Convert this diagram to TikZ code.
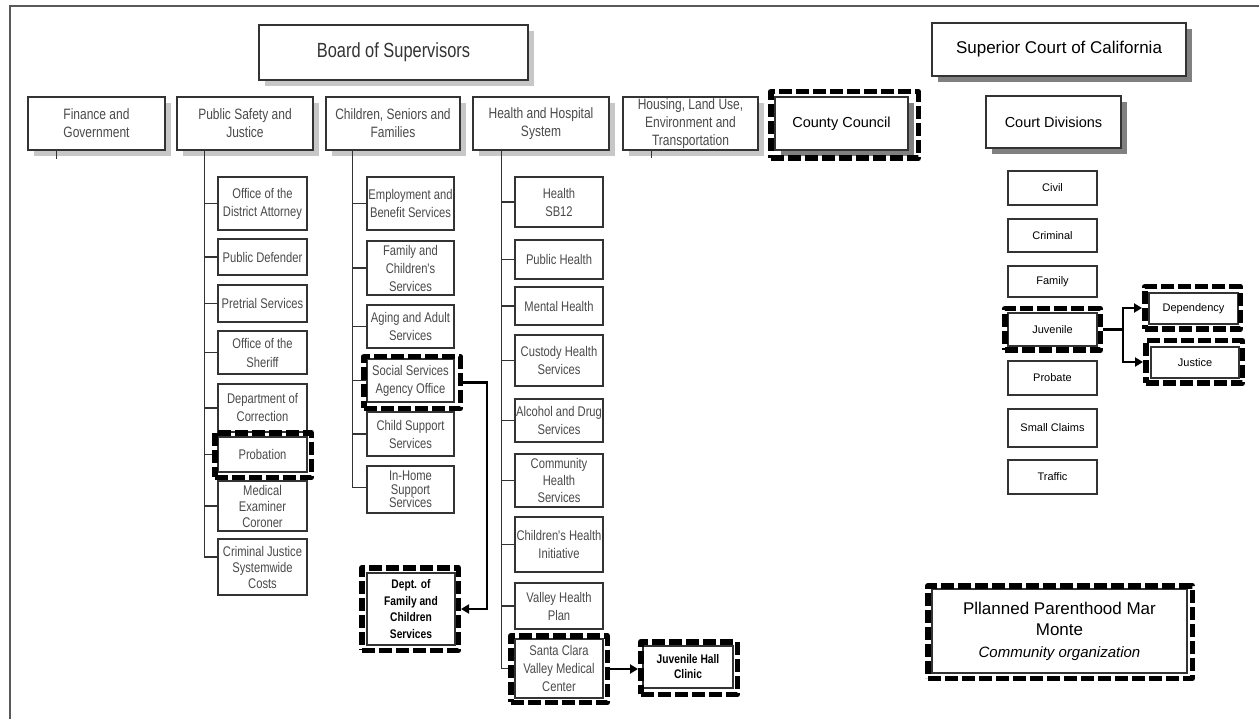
\documentclass[tikz,border=0pt]{standalone}
\usepackage{fontspec}
\setmainfont{Liberation Sans}
\newfontfamily\cond[FakeStretch=0.8]{Liberation Sans}
\newfontfamily\condb[FakeStretch=0.82]{Liberation Sans Bold}
\usetikzlibrary{shadows,arrows.meta,calc}
\definecolor{txtgray}{HTML}{4A4A4A}
\definecolor{linegray}{HTML}{333333}
\newcommand\bx[7][]{\node[box,#1,minimum width={(#5-#3)*1pt},minimum height={(#6-#4)*1pt}] (#2) at ({(#3+#5)/2},{(#4+#6)/2}) {#7};}
\newcommand\dfr[5]{\node[dashbox,minimum width={(#4-#2-5.5)*1pt},minimum height={(#5-#3-5.5)*1pt}] (#1) at ({(#2+#4)/2},{(#3+#5)/2}) {};}
\begin{document}
\begin{tikzpicture}[x=1pt,y=-1pt,
  box/.style={draw=linegray,line width=1.4pt,fill=white,rectangle,inner sep=0pt,align=center},
  shadowed/.style={drop shadow={shadow xshift=6pt,shadow yshift=-6pt,fill=black!22,opacity=1}},
  dshadow/.style={drop shadow={shadow xshift=6pt,shadow yshift=-6pt,fill=black!50,opacity=1}},
  top/.style={box,shadowed,text=txtgray,font=\cond\fontsize{15}{18}\selectfont},
  kid/.style={box,text=txtgray,font=\cond\fontsize{14}{18}\selectfont},
  crt/.style={box,text=black,font=\fontsize{11}{12}\selectfont},
  bld/.style={box,text=black,font=\condb\fontsize{12.5}{16.5}\selectfont},
  dashbox/.style={draw=black,line width=5.5pt,dash pattern=on 13pt off 4pt,rectangle,inner sep=0pt,line join=round},
  conn/.style={draw=linegray,line width=1.6pt},
  arr/.style={draw=black,line width=2.6pt,-{Triangle[length=8pt,width=9pt]}},
]
\useasboundingbox (0,0) rectangle (1259,719);
\draw[draw=black!65,line width=1.8pt] (10,730) -- (10,6) -- (1270,6);

% top level
\bx[top,text=black!80,font=\cond\fontsize{20.5}{24}\selectfont]{board}{259}{25}{528}{80}{Board of Supervisors}
\bx[top]{fin}{28}{97}{165}{150}{Finance and\\Government}
\bx[top]{psj}{177}{97}{313}{150}{Public Safety and\\Justice}
\bx[top]{csf}{326}{97}{460}{150}{Children, Seniors and\\Families}
\bx[top]{hhs}{473}{97}{609}{150}{Health and Hospital\\System}
\bx[top]{hou}{623}{97}{758}{150}{Housing, Land Use,\\Environment and\\Transportation}
\bx[top,dshadow,text=black,font=\fontsize{14.5}{17}\selectfont]{cc}{775}{97}{908}{150}{County Council}

% public safety
\bx[kid]{da}{218}{177}{307}{230}{Office of the\\District Attorney}
\bx[kid]{pd}{218}{239}{307}{275}{Public Defender}
\bx[kid]{pt}{218}{285}{307}{322}{Pretrial Services}
\bx[kid,font=\cond\fontsize{14}{19}\selectfont]{sh}{218}{331}{307}{374}{Office of the\\Sheriff}
\bx[kid]{doc}{218}{384}{307}{432}{Department of\\Correction}
\bx[kid,font=\cond\fontsize{14}{16}\selectfont]{mec}{218}{481}{307}{531}{Medical\\Examiner\\Coroner}
\bx[kid]{prob}{218}{437}{307}{472}{Probation}
\bx[kid,font=\cond\fontsize{14}{16}\selectfont]{cj}{218}{539}{307}{595}{Criminal Justice\\Systemwide\\Costs}

% children
\bx[kid]{ebs}{367}{177}{454}{230}{Employment and\\Benefit Services}
\bx[kid]{fcs}{367}{241}{454}{295}{Family and\\Children's\\Services}
\bx[kid]{aas}{367}{305}{454}{348}{Aging and Adult\\Services}
\bx[kid]{css}{367}{412}{454}{456}{Child Support\\Services}
\bx[kid]{ssa}{367}{359}{454}{402}{Social Services\\Agency Office}
\bx[kid,font=\cond\fontsize{14}{13.5}\selectfont]{ihs}{367}{466}{454}{513}{In-Home\\Support\\Services}
\bx[bld]{dfc}{367}{573}{455}{645}{Dept. of\\Family and\\Children\\Services}

% health
\bx[kid]{sb}{515}{177}{603}{227}{Health\\SB12}
\bx[kid]{ph}{515}{240}{603}{279}{Public Health}
\bx[kid]{mh}{515}{287}{603}{325}{Mental Health}
\bx[kid]{chs}{515}{335}{603}{386}{Custody Health\\Services}
\bx[kid]{ads}{515}{399}{603}{442}{Alcohol and Drug\\Services}
\bx[kid,font=\cond\fontsize{14}{17}\selectfont]{cmh}{515}{454}{603}{507}{Community\\Health\\Services}
\bx[kid]{chi}{515}{517}{603}{572}{Children's Health\\Initiative}
\bx[kid]{vhp}{515}{583}{603}{629}{Valley Health\\Plan}
\bx[kid]{scv}{515}{639}{603}{698}{Santa Clara\\Valley Medical\\Center}
\bx[bld,font=\condb\fontsize{12.5}{15}\selectfont]{jhc}{643}{646}{733}{688}{Juvenile Hall\\Clinic}

% court
\bx[dshadow,text=black,font=\fontsize{17}{20}\selectfont]{sup}{932}{23}{1186}{76}{Superior Court of California}
\bx[dshadow,text=black,font=\fontsize{14.5}{17}\selectfont]{cdv}{986}{96}{1121}{148}{Court Divisions}
\bx[crt]{civ}{1008}{171}{1097}{205}{Civil}
\bx[crt]{cri}{1008}{219}{1097}{252}{Criminal}
\bx[crt]{fam}{1008}{266}{1097}{297}{Family}
\bx[crt]{juv}{1008}{313}{1097}{346}{Juvenile}
\bx[crt]{prb}{1008}{361}{1097}{395}{Probate}
\bx[crt]{smc}{1008}{409}{1097}{447}{Small Claims}
\bx[crt]{trf}{1008}{460}{1097}{494}{Traffic}
\bx[crt]{dep}{1149}{293}{1238}{324}{Dependency}
\bx[crt]{jus}{1151}{347}{1239}{378}{Justice}
\bx[text=black,font=\fontsize{17}{21.5}\selectfont]{pp}{932}{589}{1187}{673}{Pllanned Parenthood Mar\\Monte\\{\itshape\fontsize{15}{21.5}\selectfont Community organization}}

% spines
\coordinate (finS) at ($(fin.south west)+(29,0)$);
\coordinate (psS) at ($(psj.south west)+(28,0)$);
\coordinate (csS) at ($(csf.south west)+(27,0)$);
\coordinate (hhS) at ($(hhs.south west)+(29,0)$);
\coordinate (hoS) at ($(hou.south west)+(29,0)$);
\draw[conn] (finS) -- ++(0,8);
\draw[conn] (hoS) -- ++(0,7);
\foreach \n in {da,pd,pt,sh,doc,prob,mec} \draw[conn] (psS) |- (\n.west);
\draw[conn] (psS) |- ([yshift=10pt]cj.west);
\foreach \n in {ebs,fcs,aas,ssa,css} \draw[conn] (csS) |- (\n.west);
\draw[conn] (csS) |- ([yshift=2pt]ihs.west);
\foreach \n in {sb,ph,mh,chs,ads,cmh,chi,vhp,scv} \draw[conn] (hhS) |- (\n.west);

% dashed frames
\dfr{ccD}{768}{89}{921}{161}
\dfr{probD}{212}{430}{314}{480}
\dfr{ssaD}{361}{354}{463}{411}
\dfr{dfcD}{359}{565}{461}{653}
\dfr{scvD}{508}{633}{610}{705}
\dfr{jhcD}{638}{639}{740}{697}
\dfr{juvD}{1002}{306}{1103}{353}
\dfr{depD}{1142}{284}{1243}{332}
\dfr{jusD}{1143}{338}{1245}{386}
\dfr{ppD}{925}{583}{1195}{681}

% arrows
\coordinate (ssT) at (487,382.5);
\draw[arr] (ssaD.east) -- (ssT) |- (dfcD.east);
\draw[arr] (scvD.east) -- (scvD.east -| jhcD.west);
\coordinate (juT) at (1123,329.5);
\draw[arr,line width=2.4pt] (juvD.east) -- (juT) |- (depD.west);
\draw[arr,line width=2.4pt] (juT) |- (jusD.west);
\end{tikzpicture}
\end{document}
